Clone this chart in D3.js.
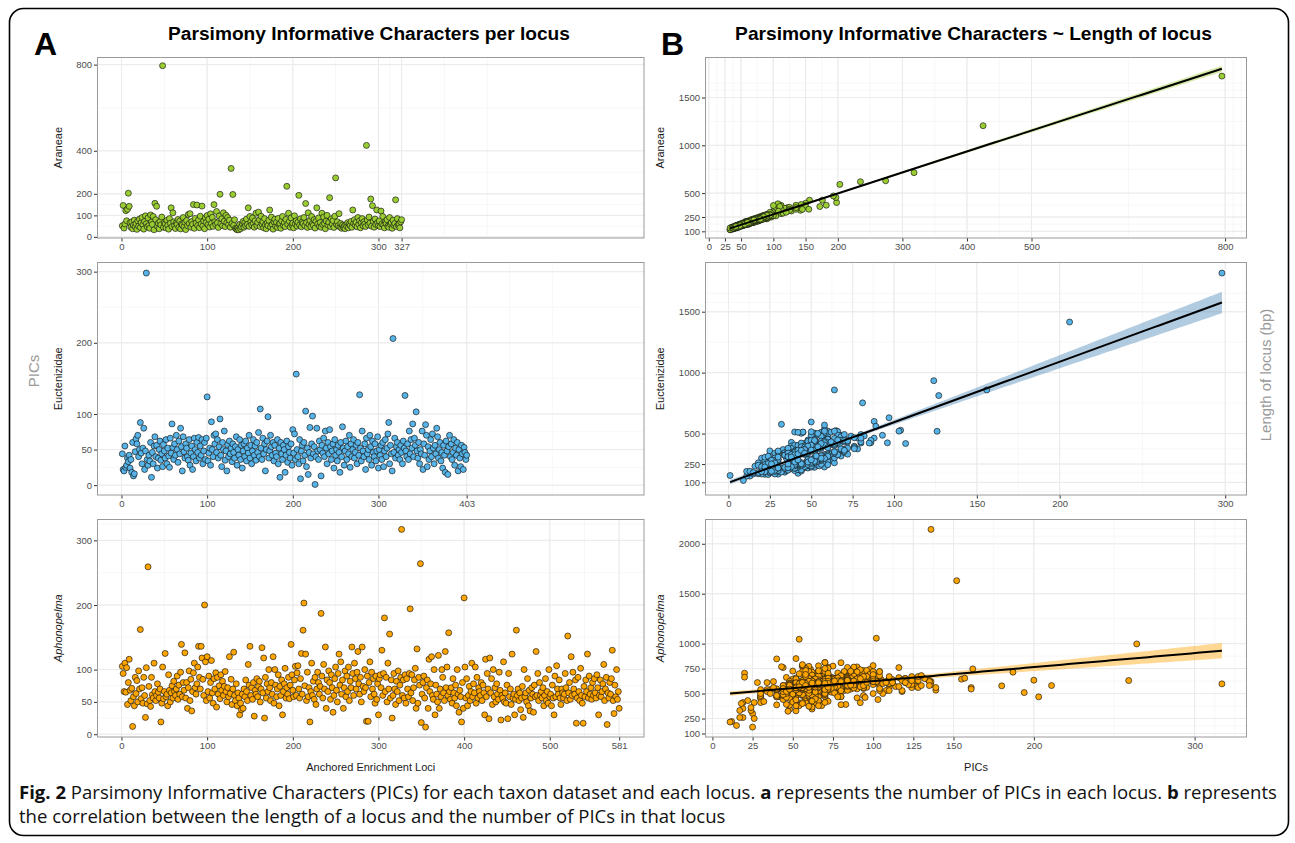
<!DOCTYPE html>
<html><head><meta charset="utf-8">
<script src="https://cdn.jsdelivr.net/npm/d3@7"></script>
<style>body{margin:0;background:#fff}svg{display:block}</style>
</head><body>
<svg id="c" width="1295" height="843"></svg>
<script>
// ---- data: [PICs, length of locus (bp)] per locus, in locus order ----
const araneae = [
[52,182],[146,350],[41,131],[60,205],[122,348],[75,204],[128,312],[203,591],[142,320],[66,219],
[45,148],[70,232],[38,128],[55,190],[78,211],[48,175],[62,180],[35,141],[74,240],[50,152],
[83,262],[44,140],[66,196],[90,230],[57,204],[36,122],[72,208],[98,296],[61,172],[47,168],
[88,271],[53,161],[40,153],[102,345],[69,190],[58,198],[95,249],[33,116],[156,426],[80,255],
[142,350],[49,176],[64,184],[38,147],[71,226],[56,168],[92,281],[795,1724],[45,139],[67,215],
[60,176],[42,160],[77,246],[54,163],[36,142],[85,228],[63,212],[135,330],[48,170],[112,372],
[70,198],[52,179],[39,130],[66,223],[58,172],[81,250],[44,165],[73,203],[37,126],[60,201],
[55,166],[90,277],[47,150],[68,219],[34,124],[76,210],[52,184],[104,262],[62,205],[108,380],
[45,162],[71,198],[58,194],[150,394],[40,135],[86,268],[64,183],[148,370],[53,186],[79,218],
[43,143],[96,290],[60,192],[143,380],[51,159],[74,231],[38,136],[88,236],[67,197],[99,302],
[56,189],[82,222],[46,166],[107,388],[63,181],[91,270],[49,157],[150,360],[70,226],[58,177],
[118,340],[65,208],[44,146],[97,250],[198,401],[61,200],[84,262],[52,163],[112,285],[73,229],
[48,172],[100,370],[66,194],[90,262],[57,175],[78,240],[45,150],[318,714],[62,199],[197,454],
[54,184],[80,219],[40,151],[36,129],[33,118],[42,142],[33,135],[58,190],[38,132],[47,162],
[61,184],[72,228],[45,158],[66,210],[52,164],[83,251],[58,179],[135,372],[49,170],[95,282],
[70,217],[56,172],[88,240],[62,201],[45,144],[75,236],[110,318],[53,180],[67,195],[115,290],
[80,242],[48,156],[96,278],[60,183],[71,219],[42,155],[85,255],[55,173],[38,145],[64,206],
[52,176],[77,216],[125,352],[46,152],[92,247],[58,186],[36,138],[70,204],[82,248],[50,171],
[68,200],[44,158],[86,236],[57,188],[62,195],[40,140],[74,225],[95,300],[53,168],[66,212],
[48,165],[81,226],[235,619],[59,180],[110,335],[72,209],[45,152],[88,259],[56,182],[64,190],
[42,146],[98,283],[60,197],[75,214],[50,160],[68,213],[193,470],[55,181],[84,230],[47,155],
[70,221],[62,186],[90,245],[52,173],[155,331],[66,205],[44,150],[112,330],[58,174],[76,230],
[48,160],[95,258],[63,202],[54,167],[80,238],[41,138],[72,220],[135,348],[60,185],[88,264],
[50,174],[67,192],[45,160],[110,360],[57,178],[92,268],[62,190],[38,139],[74,212],[100,265],
[55,186],[68,198],[182,373],[48,168],[84,252],[60,180],[76,238],[44,149],[96,262],[274,629],
[58,192],[70,206],[52,170],[108,310],[46,150],[62,198],[40,147],[55,170],[44,158],[50,163],
[38,134],[57,185],[48,158],[66,199],[42,151],[60,194],[52,168],[72,224],[45,147],[125,330],
[63,188],[80,244],[54,177],[68,209],[47,161],[90,250],[58,182],[75,222],[42,144],[66,203],
[85,246],[52,172],[70,213],[60,190],[48,153],[425,1205],[78,234],[56,176],[92,275],[64,196],
[176,426],[50,168],[145,330],[72,215],[45,156],[83,240],[58,187],[125,318],[66,200],[52,166],
[74,226],[48,164],[120,300],[60,186],[95,270],[55,178],[42,153],[70,212],[62,191],[80,236],
[50,172],[45,149],[90,266],[58,181],[66,207],[40,143],[78,226],[54,179],[62,188],[172,359],
[48,159],[85,252],[56,175],[60,193],[42,150],[70,218],[80,229]
];
const euctenizidae = [
[44,362],[22,166],[20,298],[55,245],[25,358],[28,179],[38,428],[33,219],[42,204],[24,264],
[36,210],[18,260],[60,484],[13,151],[16,232],[47,223],[65,524],[58,286],[70,373],[40,366],
[50,255],[88,600],[45,396],[30,167],[52,503],[80,422],[22,276],[48,217],[298,1817],[36,320],
[28,299],[42,174],[34,353],[60,314],[11,150],[46,419],[30,187],[55,495],[68,315],[40,316],
[56,510],[24,164],[38,238],[50,425],[62,282],[35,337],[44,192],[26,281],[57,482],[48,277],
[38,358],[64,858],[30,287],[52,223],[41,220],[25,178],[66,497],[45,510],[86,425],[53,397],
[36,290],[58,506],[42,214],[70,343],[50,595],[32,576],[62,312],[44,502],[80,492],[54,241],
[20,168],[68,485],[47,243],[38,398],[58,226],[52,500],[40,196],[35,297],[64,440],[28,339],
[45,346],[55,235],[22,306],[40,226],[66,517],[50,285],[34,183],[60,520],[46,239],[67,411],
[38,258],[55,425],[42,334],[64,260],[30,307],[48,447],[60,274],[36,220],[66,487],[124,934],
[34,333],[45,216],[52,373],[28,169],[89,560],[50,225],[40,406],[70,463],[58,316],[72,331],
[46,399],[64,410],[38,218],[54,491],[93,486],[42,244],[26,301],[60,244],[50,405],[76,386],
[35,217],[48,377],[20,228],[57,262],[40,513],[62,512],[44,232],[52,363],[33,369],[58,326],
[46,229],[38,378],[54,301],[68,475],[28,189],[50,485],[42,204],[64,400],[36,330],[56,248],
[24,314],[48,287],[58,540],[40,216],[62,422],[34,203],[52,453],[45,513],[70,363],[38,318],
[56,378],[30,347],[48,237],[64,320],[42,404],[55,315],[35,197],[60,454],[46,329],[74,479],
[40,246],[107,418],[52,413],[36,220],[66,427],[44,422],[58,570],[20,238],[50,235],[62,342],
[96,424],[38,248],[48,437],[70,433],[54,281],[42,510],[60,424],[34,343],[56,298],[45,226],
[40,356],[64,300],[30,217],[52,433],[11,190],[60,414],[44,202],[36,370],[56,478],[50,265],
[18,240],[42,234],[62,432],[32,185],[54,381],[46,399],[38,218],[58,520],[28,299],[78,464],
[45,336],[72,381],[36,200],[156,858],[50,445],[40,226],[30,357],[64,340],[9,115],[48,357],
[56,308],[34,323],[60,314],[42,224],[104,527],[26,281],[52,393],[15,169],[46,229],[81,752],
[38,328],[58,296],[97,630],[44,382],[54,501],[1,156],[40,246],[80,432],[48,247],[36,360],
[62,412],[50,275],[13,191],[56,438],[45,246],[66,347],[40,346],[76,466],[52,263],[30,197],
[60,314],[44,392],[78,374],[54,371],[36,380],[48,277],[58,426],[24,244],[64,520],[42,234],
[50,355],[34,213],[56,278],[46,369],[18,170],[60,454],[40,226],[82,480],[52,433],[28,279],
[48,277],[62,422],[36,310],[54,271],[44,332],[70,353],[25,188],[58,436],[40,346],[50,515],
[64,410],[38,218],[46,359],[56,308],[30,267],[60,454],[42,244],[127,812],[52,353],[34,323],
[76,396],[48,377],[40,246],[58,436],[22,246],[66,327],[44,342],[50,255],[36,240],[70,493],
[54,281],[28,199],[62,422],[46,389],[40,216],[58,326],[34,323],[48,337],[68,445],[24,204],
[50,385],[42,324],[56,288],[36,340],[60,334],[26,191],[48,397],[64,420],[40,236],[52,443],
[72,431],[88,463],[30,217],[56,388],[44,262],[20,228],[206,1415],[46,359],[66,327],[38,298],
[54,311],[60,424],[42,254],[50,405],[36,230],[56,298],[46,369],[30,287],[62,332],[52,363],
[126,519],[48,347],[40,246],[58,426],[36,310],[76,386],[44,242],[64,460],[52,303],[86,445],
[40,266],[66,447],[56,318],[103,520],[48,397],[38,228],[60,324],[30,307],[50,265],[44,342],
[76,376],[22,186],[58,406],[42,324],[85,422],[70,443],[26,281],[54,291],[36,310],[48,287],
[64,340],[40,346],[72,441],[52,293],[30,217],[56,418],[44,252],[80,462],[68,375],[38,328],
[50,365],[60,314],[34,223],[46,369],[24,254],[56,318],[42,364],[18,180],[62,432],[48,267],
[15,180],[54,391],[70,363],[40,326],[58,296],[36,220],[46,369],[64,350],[28,259],[52,273],
[42,334],[60,384],[20,188],[50,285],[38,308],[26,251],[56,298],[44,362],[22,226],[53,317],
[46,339],[36,250],[42,284]
];
const aphonopelma = [
[105,640],[94,480],[66,728],[110,560],[65,597],[103,440],[46,662],[80,529],[116,760],[68,489],
[52,647],[71,432],[12,220],[58,511],[44,760],[88,575],[63,695],[83,391],[50,565],[98,743],
[70,481],[162,747],[55,609],[72,763],[48,343],[88,655],[60,533],[26,410],[103,680],[47,323],
[259,630],[74,614],[52,437],[43,769],[88,585],[61,744],[56,480],[110,650],[66,408],[52,587],
[60,673],[78,477],[65,627],[56,520],[70,811],[19,410],[48,383],[104,610],[55,579],[66,498],
[125,610],[58,441],[62,715],[44,460],[92,609],[68,379],[50,645],[64,516],[75,775],[56,540],
[82,711],[66,428],[60,603],[70,471],[90,767],[54,1044],[76,646],[62,375],[96,642],[139,534],
[58,611],[80,469],[68,729],[126,580],[56,530],[80,809],[40,847],[72,423],[98,673],[52,467],
[85,553],[36,540],[66,688],[95,461],[110,600],[72,593],[62,345],[78,637],[104,720],[136,590],
[88,725],[70,491],[136,620],[118,520],[85,623],[60,453],[200,634],[112,610],[52,327],[120,650],
[66,628],[90,457],[56,710],[80,559],[114,570],[64,406],[48,623],[86,544],[70,811],[95,591],
[42,468],[88,745],[62,435],[75,625],[55,589],[92,409],[68,669],[82,531],[60,773],[74,554],
[97,683],[66,468],[50,595],[72,753],[58,411],[120,610],[63,585],[85,683],[46,392],[70,621],
[127,570],[60,613],[52,850],[78,487],[44,440],[64,666],[56,500],[30,450],[48,603],[38,620],
[62,625],[40,467],[70,701],[58,461],[84,672],[66,778],[52,427],[108,530],[76,526],[136,2144],
[60,523],[72,643],[54,608],[80,469],[28,610],[68,609],[62,365],[86,724],[58,571],[74,664],
[82,551],[50,595],[70,691],[134,640],[64,476],[118,530],[25,164],[88,665],[56,490],[78,707],
[66,608],[100,780],[72,533],[52,427],[80,649],[62,605],[120,650],[48,603],[100,500],[76,636],
[58,481],[70,641],[92,659],[44,580],[74,514],[60,723],[84,552],[30,470],[66,678],[78,557],
[102,1054],[56,510],[72,623],[62,585],[88,685],[55,489],[76,616],[139,560],[92,719],[68,549],
[58,651],[84,532],[105,620],[60,473],[95,651],[106,500],[70,651],[56,410],[86,734],[125,620],
[62,615],[161,560],[203,467],[75,655],[124,560],[52,507],[96,702],[58,521],[72,603],[19,350],
[66,528],[110,640],[60,653],[82,661],[54,378],[88,625],[46,582],[70,721],[96,562],[80,619],
[62,665],[74,564],[187,714],[90,597],[56,630],[108,620],[70,491],[135,630],[40,387],[84,762],
[66,618],[98,653],[80,549],[54,618],[92,709],[72,533],[34,540],[60,483],[86,664],[104,580],
[68,579],[50,465],[94,730],[124,590],[76,616],[112,640],[62,505],[84,572],[40,527],[72,683],
[98,683],[58,621],[90,547],[66,638],[104,530],[52,587],[82,721],[72,543],[135,620],[94,640],
[60,633],[110,530],[86,664],[70,501],[96,732],[128,560],[78,567],[62,685],[88,575],[50,505],
[135,580],[74,644],[66,528],[100,610],[72,593],[20,704],[90,627],[20,664],[80,529],[112,610],
[58,531],[96,652],[70,601],[86,614],[62,485],[48,593],[90,697],[54,608],[78,637],[30,520],
[86,654],[92,579],[72,683],[130,580],[60,603],[94,550],[180,577],[66,618],[88,645],[50,425],
[110,670],[70,561],[155,644],[56,600],[84,622],[25,300],[60,633],[94,560],[70,641],[46,492],
[82,651],[66,428],[98,693],[52,617],[76,506],[88,765],[317,597],[60,513],[84,642],[56,690],
[92,569],[48,453],[86,674],[70,621],[58,511],[94,650],[194,510],[64,596],[92,739],[52,527],
[72,593],[84,662],[102,610],[40,477],[132,650],[48,583],[88,555],[76,646],[264,997],[18,400],
[62,525],[80,629],[90,717],[56,490],[11,215],[72,663],[84,582],[40,537],[116,570],[66,728],
[78,657],[120,650],[60,373],[54,598],[100,720],[30,540],[76,566],[62,645],[50,725],[122,590],
[40,467],[70,621],[58,601],[100,590],[88,675],[64,526],[52,657],[128,630],[72,623],[104,550],
[60,653],[157,654],[66,558],[54,508],[72,633],[48,573],[86,724],[64,606],[56,540],[76,626],
[44,580],[100,630],[62,575],[34,520],[68,619],[58,671],[19,260],[80,619],[40,547],[211,580],
[104,680],[56,560],[86,624],[44,480],[60,613],[74,554],[52,647],[66,568],[110,600],[58,601],
[78,467],[64,636],[104,720],[48,533],[88,615],[56,770],[72,703],[66,378],[60,603],[80,679],
[52,607],[76,646],[64,446],[30,460],[116,660],[58,551],[94,630],[70,751],[24,330],[118,630],
[64,516],[86,624],[46,462],[100,690],[58,751],[72,543],[50,415],[78,657],[62,625],[54,548],
[96,672],[68,589],[22,430],[60,503],[56,720],[112,610],[50,495],[64,626],[48,553],[76,606],
[24,360],[94,580],[58,731],[70,641],[46,502],[124,670],[56,550],[62,595],[30,480],[54,698],
[161,545],[60,583],[70,541],[52,437],[64,646],[38,560],[56,610],[74,614],[26,250],[100,620],
[58,551],[64,606],[50,555],[86,654],[44,490],[68,619],[36,500],[56,780],[72,593],[62,425],
[34,610],[76,616],[58,691],[128,670],[60,603],[94,640],[52,537],[80,629],[60,533],[66,608],
[56,590],[72,653],[44,520],[60,603],[86,624],[52,377],[66,618],[48,583],[100,640],[58,561],
[62,605],[44,550],[76,626],[56,400],[30,410],[90,647],[58,551],[106,600],[70,611],[62,585],
[84,652],[56,560],[46,522],[70,621],[64,596],[56,790],[62,625],[94,670],[72,563],[52,607],
[152,1630],[64,566],[80,629],[54,558],[120,610],[60,603],[96,612],[70,411],[62,625],[84,642],
[17,260],[56,600],[88,585],[66,618],[52,557],[102,620],[60,603],[48,543],[17,330],[74,604],
[58,581],[84,632],[66,598],[124,630],[56,560],[90,647],[62,585],[72,623],[54,598],[80,389],
[60,623],[86,604],[64,566],[56,580],[92,649],[72,603],[30,500],[60,563],[84,632],[58,601],
[66,588],[78,627],[108,610],[52,567],[70,601],[88,625],[15,180],[64,586],[56,610],[80,619],
[62,605],[86,584],[130,680],[52,557],[32,420],[76,626],[58,581],[100,620],[54,568],[66,608],
[40,480]
];
const taxa = ["Araneae", "Euctenizidae", "Aphonopelma"];
const pointFills = ["#9ACD32", "#56B4E9", "#FFA500"];
const ribbonFills = ["#9ACD32", "#4682B4", "#FFA500"];
const indexTicks = [[0,100,200,300,327],[0,100,200,300,403],[0,100,200,300,400,500,581]];
const picTicksA = [[0,100,200,400,800],[0,50,100,200,300],[0,50,100,200,300]];
const picTicksB = [[0,25,50,100,150,200,300,400,500,800],[0,25,50,75,100,150,200,300],[0,25,50,75,100,125,150,200,300]];
const lengthTicks = [[100,250,500,1000,1500],[100,250,500,1000,1500],[100,250,500,750,1000,1500,2000]];
const datasets = [araneae, euctenizidae, aphonopelma];

// ---- layout ----
const FONT = "'Liberation Sans', Arial, Helvetica, sans-serif";
const svg = d3.select("#c");
const rows = [[57.5,238],[262.5,495],[519.5,737]];
const colA = [97.5,644], colB = [705.5,1246.5];

function expand(lo, hi){ const d=(hi-lo)*0.05; return [lo-d, hi+d]; }
function minorBreaks(b, lim){
  b = b.filter(v => v>=lim[0] && v<=lim[1]);
  const bd = b[1]-b[0]; const e = b.slice();
  if (lim[0] < e[0]) e.unshift(e[0]-bd);
  if (lim[1] > e[e.length-1]) e.push(e[e.length-1]+bd);
  const out = [];
  for (let i=0;i<e.length-1;i++) out.push(e[i], (e[i]+e[i+1])/2, e[i+1]);
  return out.filter(v => v>=lim[0] && v<=lim[1]);
}

function frame(xs, ys, xt, yt){
  const [x0,x1] = xs.range(), [y1,y0] = ys.range();
  const g = svg.append("g");
  g.append("rect").attr("x",x0).attr("y",y0).attr("width",x1-x0).attr("height",y1-y0).attr("fill","#fff");
  minorBreaks(xt, xs.domain()).forEach(v => g.append("line").attr("x1",xs(v)).attr("x2",xs(v)).attr("y1",y0).attr("y2",y1).attr("stroke","#f2f2f2").attr("stroke-width",0.6));
  minorBreaks(yt, ys.domain()).forEach(v => g.append("line").attr("y1",ys(v)).attr("y2",ys(v)).attr("x1",x0).attr("x2",x1).attr("stroke","#f2f2f2").attr("stroke-width",0.6));
  xt.forEach(v => g.append("line").attr("x1",xs(v)).attr("x2",xs(v)).attr("y1",y0).attr("y2",y1).attr("stroke","#ebebeb").attr("stroke-width",1));
  yt.forEach(v => g.append("line").attr("y1",ys(v)).attr("y2",ys(v)).attr("x1",x0).attr("x2",x1).attr("stroke","#ebebeb").attr("stroke-width",1));
  const ax = svg.append("g").attr("transform",`translate(0,${y1})`).call(d3.axisBottom(xs).tickValues(xt).tickSizeInner(3.5).tickSizeOuter(0).tickPadding(2).tickFormat(d3.format("d")));
  const ay = svg.append("g").attr("transform",`translate(${x0},0)`).call(d3.axisLeft(ys).tickValues(yt).tickSizeInner(3.5).tickSizeOuter(0).tickPadding(2).tickFormat(d3.format("d")));
  [ax,ay].forEach(a => { a.select(".domain").remove(); a.selectAll("line").attr("stroke","#333"); a.selectAll("text").attr("font-family",FONT).attr("font-size",9.5).attr("fill","#4d4d4d"); });
  return g;
}
function border(xs, ys){
  const [x0,x1] = xs.range(), [y1,y0] = ys.range();
  svg.append("rect").attr("x",x0).attr("y",y0).attr("width",x1-x0).attr("height",y1-y0).attr("fill","none").attr("stroke","#9a9a9a").attr("stroke-width",1);
}

// ---- column A ----
const maxN = d3.max(datasets, d => d.length);
const xIndex = d3.scaleLinear().domain(expand(1, maxN)).range(colA);
datasets.forEach((data, k) => {
  const ys = d3.scaleLinear().domain(expand(d3.min(data,d=>d[0]), d3.max(data,d=>d[0]))).range([rows[k][1], rows[k][0]]);
  frame(xIndex, ys, indexTicks[k], picTicksA[k]);
  svg.append("g").selectAll("circle").data(data).join("circle")
    .attr("cx",(d,i)=>xIndex(i+1)).attr("cy",d=>ys(d[0])).attr("r",3)
    .attr("fill",pointFills[k]).attr("stroke","#111").attr("stroke-width",0.65);
  border(xIndex, ys);
  svg.append("text").attr("transform",`translate(62,${(rows[k][0]+rows[k][1])/2}) rotate(-90)`)
    .attr("text-anchor","middle").attr("font-family",FONT).attr("font-size",11).attr("fill","#1a1a1a")
    .attr("font-style", k===2 ? "italic" : "normal").text(taxa[k]);
});

// ---- column B ----
datasets.forEach((data, k) => {
  const n = data.length;
  const mx = d3.mean(data,d=>d[0]), my = d3.mean(data,d=>d[1]);
  const sxx = d3.sum(data,d=>(d[0]-mx)**2), sxy = d3.sum(data,d=>(d[0]-mx)*(d[1]-my));
  const slope = sxy/sxx, icpt = my - slope*mx;
  const s = Math.sqrt(d3.sum(data,d=>(d[1]-(icpt+slope*d[0]))**2)/(n-2));
  const xmin = d3.min(data,d=>d[0]), xmax = d3.max(data,d=>d[0]);
  const band = d3.range(81).map(i => {
    const x = xmin + (xmax-xmin)*i/80, f = icpt+slope*x;
    const se = s*Math.sqrt(1/n + (x-mx)**2/sxx);
    return {x, f, lo: f-1.966*se, hi: f+1.966*se};
  });
  const xs = d3.scaleLinear().domain(expand(xmin, xmax)).range(colB);
  const ylo = Math.min(d3.min(data,d=>d[1]), d3.min(band,b=>b.lo));
  const yhi = Math.max(d3.max(data,d=>d[1]), d3.max(band,b=>b.hi));
  const ys = d3.scaleLinear().domain(expand(ylo, yhi)).range([rows[k][1], rows[k][0]]);
  frame(xs, ys, picTicksB[k], lengthTicks[k]);
  svg.append("path").datum(band).attr("fill",ribbonFills[k]).attr("fill-opacity",0.42)
    .attr("d", d3.area().x(b=>xs(b.x)).y0(b=>ys(b.lo)).y1(b=>ys(b.hi)));
  svg.append("g").selectAll("circle").data(data).join("circle")
    .attr("cx",d=>xs(d[0])).attr("cy",d=>ys(d[1])).attr("r",3)
    .attr("fill",pointFills[k]).attr("stroke","#111").attr("stroke-width",0.65);
  svg.append("path").datum(band).attr("fill","none").attr("stroke","#000").attr("stroke-width",2)
    .attr("d", d3.line().x(b=>xs(b.x)).y(b=>ys(b.f)));
  border(xs, ys);
  svg.append("text").attr("transform",`translate(664,${(rows[k][0]+rows[k][1])/2}) rotate(-90)`)
    .attr("text-anchor","middle").attr("font-family",FONT).attr("font-size",11).attr("fill","#1a1a1a")
    .attr("font-style", k===2 ? "italic" : "normal").text(taxa[k]);
});

// ---- titles & labels ----
function fit(sel, width){ const l = sel.node().getComputedTextLength(); sel.attr("font-size", parseFloat(sel.attr("font-size"))*width/l); return sel; }
svg.append("text").attr("x",34).attr("y",55).attr("font-family",FONT).attr("font-weight","bold").attr("font-size",32).text("A");
svg.append("text").attr("x",661).attr("y",55).attr("font-family",FONT).attr("font-weight","bold").attr("font-size",32).text("B");
fit(svg.append("text").attr("x",369).attr("y",40).attr("text-anchor","middle").attr("font-family",FONT).attr("font-weight","bold").attr("font-size",18).text("Parsimony Informative Characters per locus"), 402);
fit(svg.append("text").attr("x",973.5).attr("y",40).attr("text-anchor","middle").attr("font-family",FONT).attr("font-weight","bold").attr("font-size",18).text("Parsimony Informative Characters ~ Length of locus"), 477);
svg.append("text").attr("x",(colA[0]+colA[1])/2).attr("y",771).attr("text-anchor","middle").attr("font-family",FONT).attr("font-size",11).attr("fill","#1a1a1a").text("Anchored Enrichment Loci");
svg.append("text").attr("x",(colB[0]+colB[1])/2).attr("y",771).attr("text-anchor","middle").attr("font-family",FONT).attr("font-size",11).attr("fill","#1a1a1a").text("PICs");
svg.append("text").attr("transform","translate(39,371) rotate(-90)").attr("text-anchor","middle").attr("font-family",FONT).attr("font-size",15).attr("fill","#9a9a9a").text("PICs");
svg.append("text").attr("transform","translate(1271,375) rotate(-90)").attr("text-anchor","middle").attr("font-family",FONT).attr("font-size",15).attr("fill","#9a9a9a").text("Length of locus (bp)");

// ---- outer frame & caption ----
svg.append("rect").attr("x",9.5).attr("y",8.5).attr("width",1279).attr("height",827).attr("rx",14).attr("fill","none").attr("stroke","#000").attr("stroke-width",1.6);
const CAP = "'Open Sans', 'Noto Sans', sans-serif";
const l1 = svg.append("text").attr("x",19).attr("y",799).attr("font-family",CAP).attr("font-size",15.8).attr("fill","#111");
[["Fig. 2",1],[" Parsimony Informative Characters (PICs) for each taxon dataset and each locus. ",0],["a",1],[" represents the number of PICs in each locus. ",0],["b",1],[" represents",0]]
  .forEach(([t,b]) => l1.append("tspan").attr("font-weight", b ? "bold" : "normal").text(t));
fit(l1, 1259);
svg.append("text").attr("x",19).attr("y",822.5).attr("font-family",CAP).attr("font-size",l1.attr("font-size")).attr("fill","#111")
  .text("the correlation between the length of a locus and the number of PICs in that locus");
</script>
</body></html>
